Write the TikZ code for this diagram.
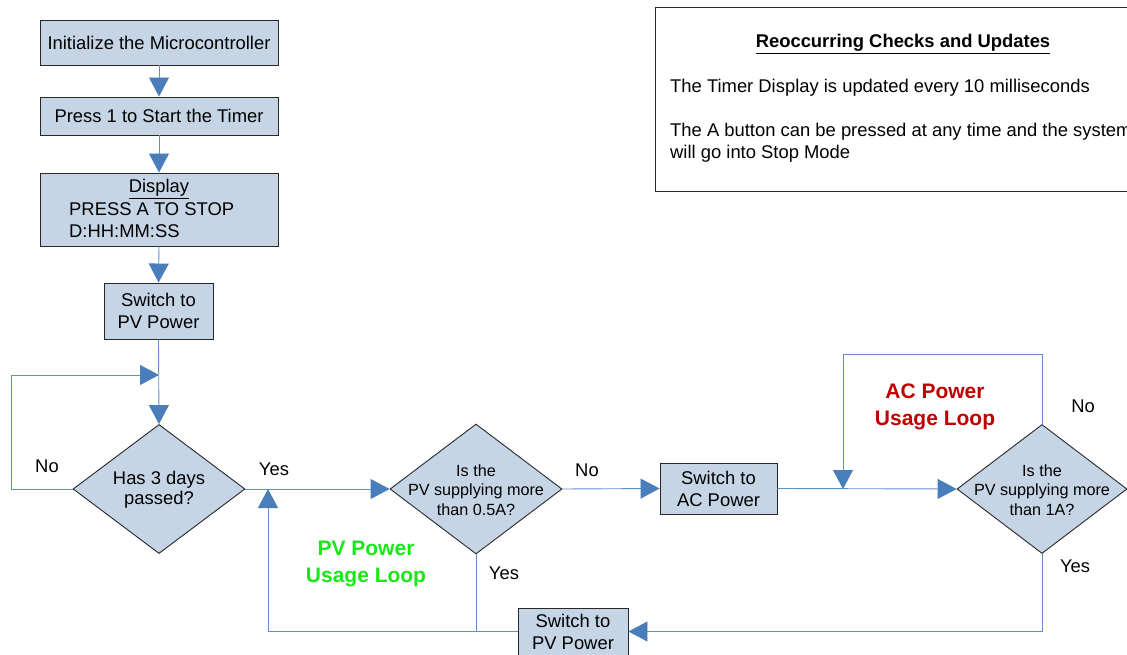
\documentclass[tikz,border=0pt]{standalone}
\usepackage{fontspec}
\setmainfont{Liberation Sans}
\usetikzlibrary{shapes.geometric,arrows.meta}
\definecolor{boxfill}{RGB}{198,213,230}
\definecolor{flow}{RGB}{74,126,187}
\definecolor{flowthin}{RGB}{96,144,204}
\definecolor{loopgreen}{RGB}{24,232,24}
\definecolor{loopred}{RGB}{192,0,0}
\definecolor{edge}{RGB}{40,40,40}

\begin{document}
\begin{tikzpicture}[x=1pt,y=-1pt,
  procbox/.style={rectangle,draw=edge,fill=boxfill,line width=0.9pt,inner sep=0pt,
    font=\fontsize{18.4}{22}\selectfont,align=center},
  decision/.style={diamond,draw=edge,fill=boxfill,line width=0.9pt,inner sep=0pt},
  bigtxt/.style={font=\fontsize{18.4}{20}\selectfont,align=center,inner sep=0pt},
  smalltxt/.style={font=\fontsize{16.2}{19.5}\selectfont,align=center,inner sep=0pt},
  plaintxt/.style={font=\fontsize{18.4}{22}\selectfont,inner sep=0pt},
  flowline/.style={draw=flowthin,line width=0.9pt},
  flowarrow/.style={flowline,-{Triangle[width=20pt,length=19pt,color=flow]}},
  looplabel/.style={font=\bfseries\fontsize{21}{27}\selectfont,align=center,inner sep=0pt}
]
\useasboundingbox (0,0) rectangle (1127,655);
\clip (0,0) rectangle (1127,655);

% start-up sequence
\node[procbox,minimum width=238pt,minimum height=45pt] (b1) at (159,42.5) {Initialize the Microcontroller};
\node[procbox,minimum width=238pt,minimum height=38pt] (b2) at (159,116) {Press 1 to Start the Timer};
\node[procbox,minimum width=238pt,minimum height=73pt] (b3) at (159,209.5) {};
\node[plaintxt] (b3title) at (159,189) {\underline{Display}};
\node[plaintxt,anchor=west] (b3l1) at (69,209.5) {PRESS A TO STOP};
\node[plaintxt,anchor=west] (b3l2) at (69,231) {D:HH:MM:SS};
\node[procbox,minimum width=109pt,minimum height=56pt] (b4) at (158.5,311) {Switch to\\PV Power};

% decisions
\node[decision,minimum width=172pt,minimum height=129pt] (d1) at (159,489) {};
\node[bigtxt] (d1t) at (159,490) {Has 3 days\\passed?};
\node[decision,minimum width=172pt,minimum height=130pt] (d2) at (476,489) {};
\node[smalltxt] (d2t) at (476,490) {Is the\\PV supplying more\\than 0.5A?};
\node[decision,minimum width=170pt,minimum height=129pt] (d3) at (1042,489) {};
\node[smalltxt] (d3t) at (1042,490) {Is the\\PV supplying more\\than 1A?};

% power switching
\node[procbox,minimum width=117pt,minimum height=51pt] (ac) at (718.5,488.5) {Switch to\\AC Power};
\node[procbox,minimum width=110pt,minimum height=47pt] (pv2) at (573,631.5) {Switch to\\PV Power};

% junction points
\coordinate (j1) at (159,375);
\coordinate (j2) at (843,489);
\coordinate (j3) at (268,489);

% connectors
\draw[flowarrow] (b1.south) -- (b2.north);
\draw[flowarrow] (b2.south) -- (b3.north);
\draw[flowarrow] (b3.south) -- (b4.north);
\draw[flowarrow] (b4.south) -- (d1.north);
\draw[flowarrow] (d1.west) -- (11,489) -- (11,375) -- (j1);
\draw[flowarrow] (d1.east) -- (d2.west);
\draw[flowarrow] (d2.east) -- (ac.west);
\draw[flowarrow] (ac.east) -- (d3.west);
\draw[flowarrow] (d3.north) -- (1042,354) -- (843,354) -- (j2);
\draw[flowarrow] (d3.south) |- (pv2.east);
\draw[flowarrow] (pv2.west) -| (j3);
\draw[flowline] (d2.south) -- (d2.south |- pv2.west);

% branch labels
\node[plaintxt] (n1) at (47,466) {No};
\node[plaintxt] (y1) at (274,469) {Yes};
\node[plaintxt] (n2) at (587,470) {No};
\node[plaintxt] (y2) at (504,573) {Yes};
\node[plaintxt] (n3) at (1083,406) {No};
\node[plaintxt] (y3) at (1075,566) {Yes};

% loop captions
\node[looplabel,text=loopgreen] (pvloop) at (366,564) {PV Power\\Usage Loop};
\node[looplabel,text=loopred] (acloop) at (935,407) {AC Power\\Usage Loop};

% notes panel
\node[rectangle,draw=edge,line width=0.9pt,anchor=north west,minimum width=500pt,minimum height=184pt,inner sep=0pt] (notes) at (655,7) {};
\node[plaintxt] (notestitle) at (903,44) {\textbf{\underline{Reoccurring Checks and Updates}}};
\node[plaintxt,anchor=west] (note1) at (670,88) {The Timer Display is updated every 10 milliseconds};
\node[plaintxt,anchor=west] (note2) at (670,132) {The A button can be pressed at any time and the system};
\node[plaintxt,anchor=west] (note3) at (670,154) {will go into Stop Mode};
\end{tikzpicture}
\end{document}
